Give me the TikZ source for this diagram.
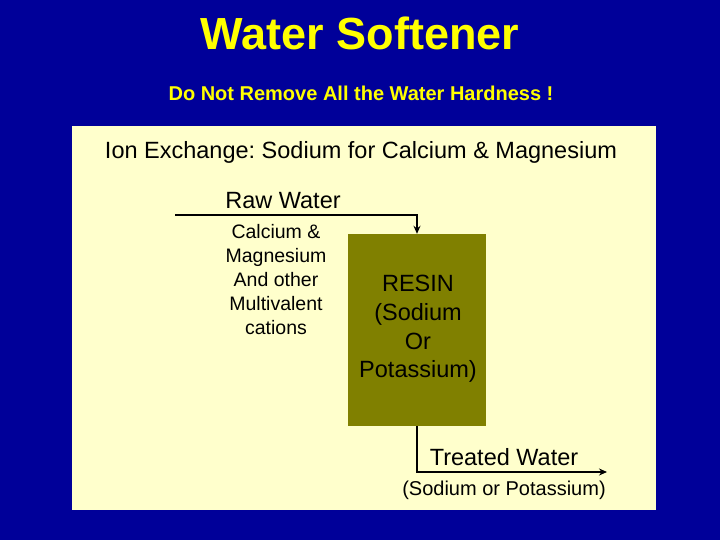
\documentclass[tikz,border=0pt]{standalone}
\usepackage{fontspec}
\setmainfont{Liberation Sans}
\usetikzlibrary{arrows.meta}
\definecolor{navy}{RGB}{0,0,153}
\definecolor{cream}{RGB}{255,255,204}
\definecolor{olive}{RGB}{128,128,0}
\definecolor{titleyellow}{RGB}{255,255,0}
\tikzset{
  flow/.style={line width=2pt,-{Stealth[length=8pt,width=7pt]}},
  lbl/.style={inner sep=0pt,align=center,text=black},
}
\frenchspacing
\begin{document}
\begin{tikzpicture}[x=1pt,y=-1pt]
\useasboundingbox (0,0) rectangle (720,540);
\fill[navy] (0,0) rectangle (720,540);
\fill[cream] (72,126) rectangle (656,510);
\node[inner sep=0pt,text=titleyellow,font=\fontsize{45}{50}\selectfont\bfseries] (title) at (360,33) {Water Softener};
\node[inner sep=0pt,text=titleyellow,font=\fontsize{20}{24}\selectfont\bfseries] (sub) at (361,93) {Do Not Remove All the Water Hardness !};
% panel texts
\node[lbl,font=\fontsize{23.5}{28}\selectfont] (ion) at (361,152) {Ion Exchange: Sodium for Calcium \& Magnesium};
\node[lbl,font=\fontsize{23.5}{28}\selectfont] (raw) at (283,201) {Raw Water};
\node[lbl,font=\fontsize{19.5}{24}\selectfont] (cal) at (276,280) {Calcium \&\\Magnesium\\And other\\Multivalent\\cations};
\node[draw=none,fill=olive,minimum width=138,minimum height=192,inner sep=0pt] (resin) at (417,330) {};
\node[lbl,font=\fontsize{23.5}{28.7}\selectfont] (resintext) at (418,329) {RESIN\\(Sodium\\Or\\Potassium)};
\node[lbl,font=\fontsize{23.5}{28}\selectfont] (treated) at (504,457) {Treated Water};
\node[lbl,font=\fontsize{20}{24}\selectfont] (treatedsub) at (504,490) {(Sodium or Potassium)};
% connectors
\coordinate (rawstart) at (175,215);
\coordinate (treatedend) at (607,472);
\draw[flow] (rawstart) -| (resin.north);
\draw[flow] (resin.south) |- (treatedend);
\end{tikzpicture}
\end{document}
